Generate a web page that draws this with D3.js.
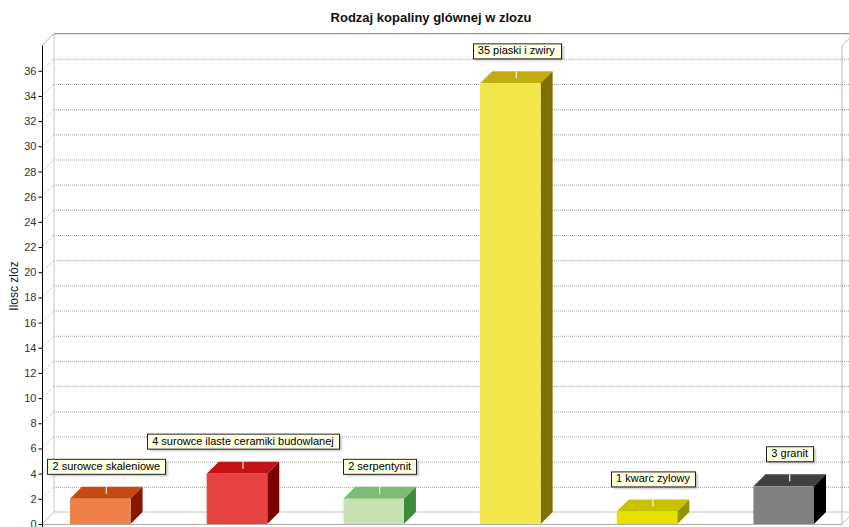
<!DOCTYPE html>
<html>
<head>
<meta charset="utf-8">
<script src="https://cdn.jsdelivr.net/npm/d3@7"></script>
<style>
  html, body { margin: 0; padding: 0; background: #fff; }
  svg { display: block; }
</style>
</head>
<body>
<svg id="chart" width="849" height="527"></svg>
<script>
// Deposit counts by main mineral type
const categories = ["surowce skaleniowe", "surowce ilaste ceramiki budowlanej", "serpentynit", "piaski i zwiry", "kwarc zylowy", "granit"];
const values = [2, 4, 2, 35, 1, 3];
const frontColors = ["#ef8049", "#e84343", "#c8e2b6", "#f3e54c", "#e7e000", "#808080"];
const topColors   = ["#c9480f", "#c51216", "#7cbc74", "#c0ae12", "#c9c200", "#404040"];
const sideColors  = ["#861600", "#7c0000", "#3d8b3d", "#7d7000", "#959200", "#000000"];
const yTicks = d3.range(0, 38, 2);
const title = "Rodzaj kopaliny glównej w zlozu";
const yTitle = "Ilosc zlóz";

const svg = d3.select("#chart");
const W = 849, H = 527;
const dx = 12, dy = -12;          // 3D depth offset
const x0 = 42, x1 = 842;          // front plane horizontal extent
const yBase = 524, yTop = 45.6;   // front plane vertical extent

const x = d3.scaleBand().domain(categories).range([x0, x1])
  .paddingInner(0.557).paddingOuter(0.205);
const y = d3.scaleLinear().domain([0, 38]).range([yBase, yTop]);

svg.append("rect").attr("width", W).attr("height", H).attr("fill", "#fff");

// Title
svg.append("text").attr("x", 431).attr("y", 22).attr("text-anchor", "middle")
  .attr("font-family", "Liberation Sans, Arial, sans-serif").attr("font-size", 13)
  .attr("font-weight", "bold").attr("fill", "#111").text(title);

// Walls
const wall = svg.append("g").attr("fill", "none");
const backTop = y(38) + dy, backBottom = yBase + dy;
wall.append("line").attr("x1", x0 + dx).attr("x2", x1 + dx).attr("y1", backTop).attr("y2", backTop)
  .attr("stroke", "#a3918f").attr("stroke-width", 1.2);
wall.append("line").attr("x1", x0 + dx).attr("x2", x0 + dx).attr("y1", backTop).attr("y2", backBottom)
  .attr("stroke", "#cfc6c6");
wall.append("line").attr("x1", x0).attr("x2", x0 + dx).attr("y1", y(38)).attr("y2", backTop)
  .attr("stroke", "#b5aaaa");
wall.append("line").attr("x1", x0 + dx).attr("x2", x1 + dx).attr("y1", backBottom).attr("y2", backBottom)
  .attr("stroke", "#c9bfbf");
wall.append("line").attr("x1", x0).attr("x2", x0 + dx).attr("y1", yBase).attr("y2", backBottom)
  .attr("stroke", "#c9bfbf");
wall.append("line").attr("x1", x0).attr("x2", x1).attr("y1", yBase + 0.5).attr("y2", yBase + 0.5)
  .attr("stroke", "#b8aeae");
wall.append("line").attr("x1", x1).attr("x2", x1).attr("y1", y(38)).attr("y2", yBase)
  .attr("stroke", "#bdb3b3");
wall.append("line").attr("x1", x1).attr("x2", x1 + dx).attr("y1", y(38)).attr("y2", backTop)
  .attr("stroke", "#bdb3b3");
wall.append("line").attr("x1", x1).attr("x2", x1 + dx).attr("y1", yBase).attr("y2", backBottom)
  .attr("stroke", "#bdb3b3");

// Grid lines on the back wall and the left wall
const grid = svg.append("g").attr("stroke", "#ad9f9b").attr("stroke-dasharray", "1,1").attr("fill", "none");
yTicks.filter(v => v > 0).forEach(v => {
  grid.append("line").attr("x1", x0 + dx).attr("x2", x1 + dx)
    .attr("y1", y(v) + dy + 0.5).attr("y2", y(v) + dy + 0.5);
  grid.append("line").attr("x1", x0).attr("x2", x0 + dx)
    .attr("y1", y(v)).attr("y2", y(v) + dy).attr("stroke", "#c2b6b3");
});

// Value axis
const axis = d3.axisLeft(y).tickValues(yTicks).tickSize(4).tickPadding(2);
const gAxis = svg.append("g").attr("transform", `translate(${x0 + 0.5},0)`).call(axis);
gAxis.select(".domain").attr("d", `M0,${y(38)}V${yBase + 4}`).attr("stroke", "#000");
gAxis.selectAll(".tick line").attr("stroke", "#000");
gAxis.selectAll(".tick text").attr("font-family", "Liberation Sans, Arial, sans-serif")
  .attr("font-size", 11).attr("fill", "#333");

svg.append("text").attr("transform", `translate(18,286) rotate(-90)`).attr("text-anchor", "middle")
  .attr("font-family", "Liberation Sans, Arial, sans-serif").attr("font-size", 12)
  .attr("fill", "#222").text(yTitle);

// 3D bars
const bars = svg.append("g");
categories.forEach((c, i) => {
  const bx = x(c), bw = x.bandwidth(), by = y(values[i]);
  const g = bars.append("g");
  // top face
  g.append("path").attr("d", `M${bx},${by}L${bx + dx},${by + dy}L${bx + bw + dx},${by + dy}L${bx + bw},${by}Z`)
    .attr("fill", topColors[i]);
  // side face
  g.append("path").attr("d", `M${bx + bw},${by}L${bx + bw + dx},${by + dy}L${bx + bw + dx},${yBase + dy}L${bx + bw},${yBase}Z`)
    .attr("fill", sideColors[i]);
  // front face
  g.append("rect").attr("x", bx).attr("y", by).attr("width", bw).attr("height", yBase - by)
    .attr("fill", frontColors[i]);
  // label connector across the top face
  const cx = bx + bw / 2 + dx / 2;
  g.append("line").attr("x1", cx).attr("x2", cx).attr("y1", by + dy).attr("y2", by + dy / 2 + 1)
    .attr("stroke", "#f4f4f4").attr("stroke-width", 1.2);
});

// Value labels
const defs = svg.append("defs");
defs.append("filter").attr("id", "shadow").attr("x", "-10%").attr("y", "-30%").attr("width", "130%").attr("height", "180%")
  .append("feGaussianBlur").attr("stdDeviation", 1.2);

const labels = svg.append("g");
categories.forEach((c, i) => {
  const cx = x(c) + x.bandwidth() / 2 + dx / 2;
  const boxBottom = y(values[i]) + dy - 13;
  const g = labels.append("g");
  const t = g.append("text").attr("x", cx).attr("y", boxBottom - 4)
    .attr("text-anchor", "middle").attr("font-family", "Liberation Sans, Arial, sans-serif")
    .attr("font-size", 11).attr("fill", "#000").text(`${values[i]} ${c}`);
  const bb = t.node().getBBox();
  const bxl = Math.round(bb.x - 5) + 0.5, bwid = Math.round(bb.width + 10), bh = 15;
  g.insert("rect", "text").attr("x", bxl + 2).attr("y", boxBottom - bh + 2).attr("width", bwid).attr("height", bh)
    .attr("fill", "#888").attr("opacity", 0.6).attr("filter", "url(#shadow)");
  g.insert("rect", "text").attr("x", bxl).attr("y", boxBottom - bh + 0.5).attr("width", bwid).attr("height", bh)
    .attr("fill", "#ffffe3").attr("stroke", "#222").attr("stroke-width", 1);
});
</script>
</body>
</html>
